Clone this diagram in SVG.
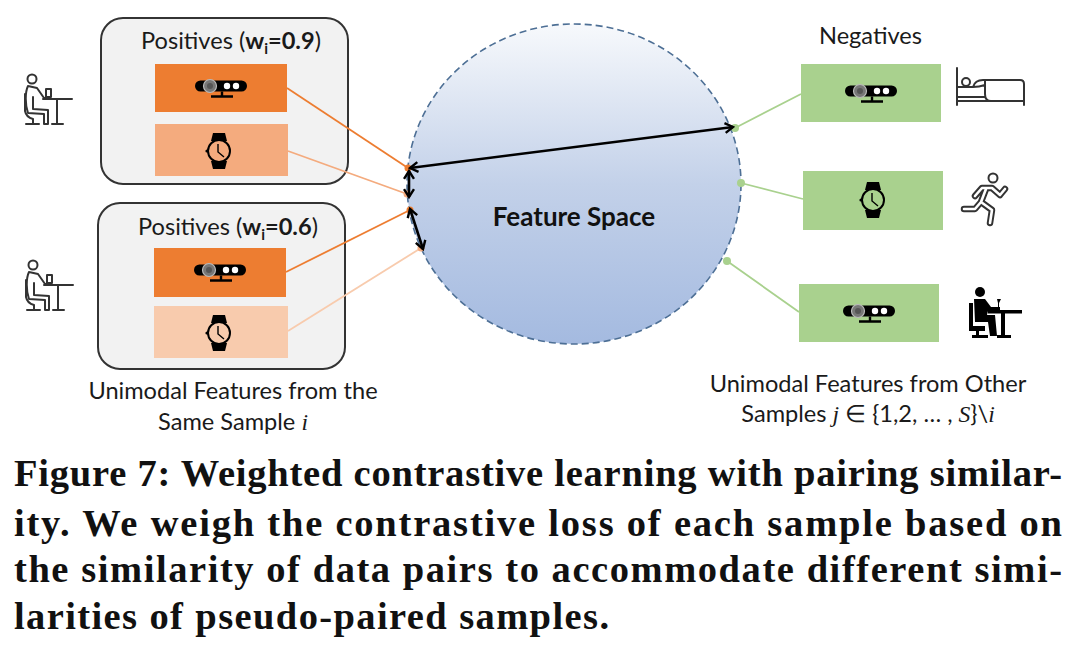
<svg xmlns="http://www.w3.org/2000/svg" width="1082" height="645" viewBox="0 0 1082 645">
<style>
.l{font-family:Lato,"Noto Sans",sans-serif;font-size:23.6px;fill:#1a1a1a}
.m{font-family:"Liberation Serif",serif;font-style:italic}
.c{font-family:"Liberation Serif",serif;font-weight:bold;font-size:38.5px;fill:#111}
.b{fill:#f2f2f2;stroke:#333;stroke-width:2}
.ol{fill:none;stroke:#333;stroke-width:2;stroke-linecap:round;stroke-linejoin:round}
.a{fill:none;stroke:#000;stroke-width:2.6;marker-start:url(#h);marker-end:url(#h)}
</style>
<defs>
<marker id="h" viewBox="0 0 12 12" refX="10" refY="6" markerWidth="4.6" markerHeight="4.6" orient="auto-start-reverse"><path d="M2 1L10 6L2 11" fill="none" stroke="#000" stroke-width="2.4"/></marker>
<linearGradient id="g" x1="0" y1="0" x2="0" y2="1"><stop offset="0" stop-color="#f7f9fc"/><stop offset=".5" stop-color="#c3d1e9"/><stop offset="1" stop-color="#a4bae0"/></linearGradient>
<symbol id="kinect" overflow="visible"><rect x="-26" y="-5.5" width="52" height="11" rx="5.5" fill="#000"/><circle cx="-11" cy="0" r="6.5" fill="#777" stroke="#bbb" stroke-width="1.2"/><circle cx="-11" cy="0" r="3" fill="#555"/><circle cx="6" cy="0" r="3.2" fill="#fff"/><circle cx="15" cy="0" r="3.2" fill="#fff"/><path d="M1 5.5V10M-10 10.5H12" stroke="#000" stroke-width="2.4" fill="none"/></symbol>
<symbol id="watch" overflow="visible"><path d="M-6-18H6L8-10H-8ZM-8 10H8L6 18H-6Z" fill="#000"/><circle r="11" fill="none" stroke="#000" stroke-width="2"/><path d="M-1-7V1L5 6" fill="none" stroke="#000" stroke-width="1.4"/><circle cx="-12" cy="0" r="1.6" fill="#000"/></symbol>
<symbol id="sit" overflow="visible"><g class="ol"><circle cx="32" cy="79" r="4.5"/><path d="M28 86L37 88L44 98H49M28 86C25 92 25 105 28 113L44 114V124H48V110L33 109V97"/><path d="M25 94V111C26 116 29 118 33 119V124M26 124H39"/><rect x="46" y="89" width="5" height="8"/><path d="M43 99H72M57 99V124M52 124H63"/></g></symbol>
</defs>
<rect width="1082" height="645" fill="#fff"/>
<g id="feature-space"><ellipse cx="574" cy="184" rx="167" ry="160" fill="url(#g)" stroke="#4d6f95" stroke-width="1.6" stroke-dasharray="7 4"/><text x="574" y="226" text-anchor="middle" font-family="Lato,sans-serif" font-weight="700" font-size="26" fill="#111">Feature Space</text></g>
<g id="pos-09"><rect class="b" x="101" y="18" width="247" height="166" rx="22"/><text class="l" x="141" y="49">Positives (<tspan font-weight="700">w</tspan><tspan font-weight="700" font-size="15" dy="5">i</tspan><tspan font-weight="700" dy="-5">=0.9</tspan>)</text><rect x="155" y="64" width="132" height="48" fill="#ed7d31"/><use href="#kinect" x="221" y="86"/><rect x="155" y="124" width="133" height="52" fill="#f4ab7e"/><use href="#watch" x="219" y="151"/></g>
<g id="pos-06"><rect class="b" x="98" y="203" width="247" height="166" rx="22"/><text class="l" x="138" y="235">Positives (<tspan font-weight="700">w</tspan><tspan font-weight="700" font-size="15" dy="5">i</tspan><tspan font-weight="700" dy="-5">=0.6</tspan>)</text><rect x="154" y="248" width="132" height="49" fill="#ed7d31"/><use href="#kinect" x="220" y="270"/><rect x="154" y="306" width="134" height="52" fill="#f8cbad"/><use href="#watch" x="219" y="333"/></g>
<g id="person-1"><use href="#sit"/></g>
<g id="person-2"><use href="#sit" x="1" y="186"/></g>
<g id="neg-1"><text class="l" x="819" y="44">Negatives</text><rect x="801" y="64" width="140" height="58" fill="#a9d18e"/><use href="#kinect" x="871" y="91"/><g class="ol"><path d="M957 68V105M957 87H973M957 97H985M957 101H1024M1024 105V84Q1024 80 1020 80H983Q975 80 973 87Q979 87 985 85M985 80V94Q985 101 991 101"/><circle cx="966" cy="82" r="4"/></g></g>
<g id="neg-2"><rect x="803" y="171" width="140" height="59" fill="#a9d18e"/><use href="#watch" x="873" y="200"/><g fill="none" stroke-linecap="round" stroke-linejoin="round"><circle cx="993" cy="178" r="4.5" stroke="#333" stroke-width="2"/><path d="M975 196L982 188H992L1000 195L1005 189M986 189L981 202L992 210L990 223M981 202L975 209H964" stroke="#333" stroke-width="6.5"/><path d="M975 196L982 188H992L1000 195L1005 189M986 189L981 202L992 210L990 223M981 202L975 209H964" stroke="#fff" stroke-width="2.6"/></g></g>
<g id="neg-3"><rect x="799" y="284" width="140" height="58" fill="#a9d18e"/><use href="#kinect" x="869" y="311"/><g fill="#000"><circle cx="980" cy="292" r="5"/><path d="M974 299H985L991 307H1000V311H988L987 315H995L997 336H990L988 322H975Z"/><path d="M969 303H973V326H985V331H979V335H988V338H972V335H976V331H969Z"/><path d="M988 310H1022V313.500H1005V335H1011V338H997V335H1001V313.500H988Z"/><path d="M997 299H1001L999 303V309H998V303Z"/></g></g>
<g id="connectors">
<g fill="none" stroke-width="1.8">
<path d="M287 88L408 168" stroke="#ed7d31"/><path d="M288 151L407 194" stroke="#f4ab7e"/>
<path d="M286 272L410 210" stroke="#ed7d31"/><path d="M288 331L421 248" stroke="#f8cbad"/>
<path d="M801 94L735 128M803 199L741 183M799 312L727 261" stroke="#a9d18e"/>
</g>
<g fill="#ed7d31"><circle cx="408" cy="168" r="3.5"/><circle cx="410" cy="210" r="3.5"/></g>
<g fill="#f4ab7e"><circle cx="407" cy="194" r="3.5"/><circle cx="421" cy="248" r="3.5"/></g>
<g fill="#a9d18e"><circle cx="735" cy="128" r="4"/><circle cx="741" cy="183" r="4"/><circle cx="727" cy="261" r="4"/></g>
<path class="a" d="M410 168L733 127"/><path class="a" d="M409 171L409 197"/><path class="a" d="M410 209L423 249"/>
</g>
<g id="labels">
<text class="l" x="233" y="399" text-anchor="middle">Unimodal Features from the</text>
<text class="l" x="233" y="430" text-anchor="middle">Same Sample <tspan class="m">i</tspan></text>
<text class="l" x="868" y="392" text-anchor="middle">Unimodal Features from Other</text>
<text class="l" x="868" y="422" text-anchor="middle">Samples <tspan class="m">j</tspan> ∈ {1,2, … , <tspan class="m">S</tspan>}\<tspan class="m">i</tspan></text>
</g>
<g id="caption">
<text class="c" x="14" y="486" textLength="1048" lengthAdjust="spacing">Figure 7: Weighted contrastive learning with pairing similar-</text>
<text class="c" x="14" y="536" textLength="1048" lengthAdjust="spacing">ity. We weigh the contrastive loss of each sample based on</text>
<text class="c" x="14" y="582" textLength="1048" lengthAdjust="spacing">the similarity of data pairs to accommodate different simi-</text>
<text class="c" x="14" y="629" textLength="595" lengthAdjust="spacing">larities of pseudo-paired samples.</text>
</g>
</svg>
